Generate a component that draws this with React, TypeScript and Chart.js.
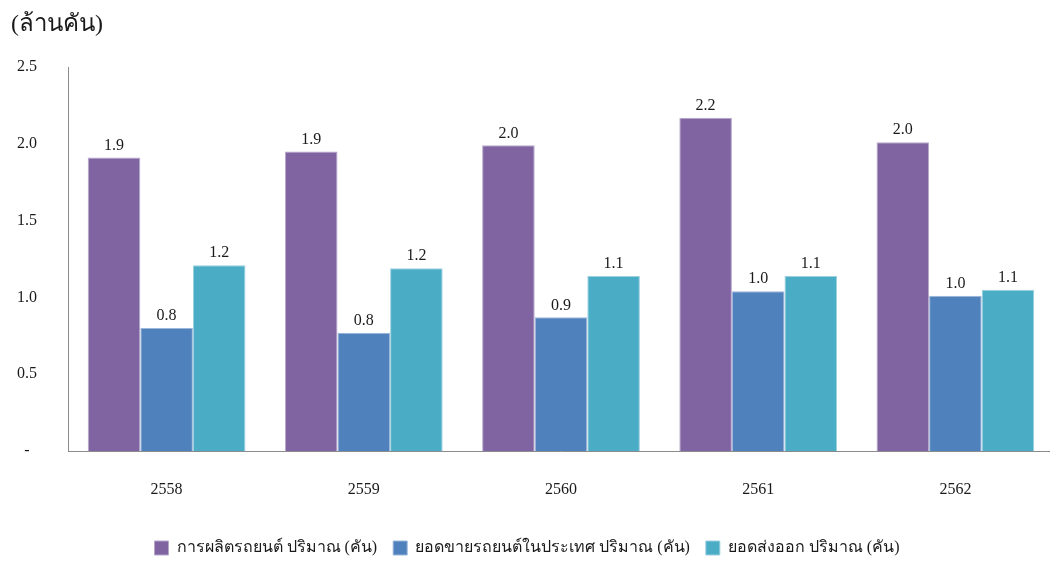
import React, { useEffect, useRef } from "react";
import { Chart, registerables } from "chart.js";

Chart.register(...registerables);

const categories = ["2558", "2559", "2560", "2561", "2562"];
const productionValues = [1.91, 1.95, 1.99, 2.17, 2.01];
const domesticValues = [0.80, 0.77, 0.87, 1.04, 1.01];
const exportValues = [1.21, 1.19, 1.14, 1.14, 1.05];
const seriesLabels = [
  "การผลิตรถยนต์ ปริมาณ (คัน)",
  "ยอดขายรถยนต์ในประเทศ ปริมาณ (คัน)",
  "ยอดส่งออก ปริมาณ (คัน)",
];
const yTickValues = [0, 0.5, 1.0, 1.5, 2.0, 2.5];
const unitLabel = "(ล้านคัน)";

const FONT = "'Liberation Serif', 'Times New Roman', 'Noto Sans', serif";

const labelPlugin = {
  id: "barLabels",
  afterDatasetsDraw(chart: any) {
    const ctx = chart.ctx;
    ctx.save();
    ctx.font = `16px ${FONT}`;
    ctx.fillStyle = "#1a1a1a";
    ctx.textAlign = "center";
    ctx.textBaseline = "bottom";
    chart.data.datasets.forEach((ds: any, i: number) => {
      const meta = chart.getDatasetMeta(i);
      meta.data.forEach((bar: any, j: number) => {
        const v = ds.data[j] as number;
        ctx.fillText(v.toFixed(1), bar.x, bar.y - 4);
      });
    });
    ctx.restore();
  },
};

const titlePlugin = {
  id: "unitTitle",
  afterDraw(chart: any) {
    const ctx = chart.ctx;
    ctx.save();
    ctx.font = `24px ${FONT}`;
    ctx.fillStyle = "#1a1a1a";
    ctx.textAlign = "left";
    ctx.textBaseline = "middle";
    ctx.fillText(unitLabel, 11, 25);
    ctx.restore();
  },
};

export default function App() {
  const ref = useRef<HTMLCanvasElement | null>(null);
  useEffect(() => {
    if (!ref.current) return;
    const chart = new Chart(ref.current, {
      type: "bar",
      data: {
        labels: categories,
        datasets: [
          {
            label: seriesLabels[0],
            data: productionValues,
            backgroundColor: "#8064A2",
            borderColor: "#B7A7CB",
            borderWidth: 1,
          },
          {
            label: seriesLabels[1],
            data: domesticValues,
            backgroundColor: "#4F81BD",
            borderColor: "#9DB6DA",
            borderWidth: 1,
          },
          {
            label: seriesLabels[2],
            data: exportValues,
            backgroundColor: "#4BACC6",
            borderColor: "#9BD0DF",
            borderWidth: 1,
          },
        ],
      },
      options: {
        responsive: false,
        animation: false,
        layout: { padding: { top: 67, right: 0, bottom: 0, left: 0 } },
        datasets: {
          bar: { categoryPercentage: 0.8, barPercentage: 1.0 },
        },
        plugins: {
          legend: {
            position: "bottom",
            labels: {
              font: { family: FONT, size: 16 },
              color: "#1a1a1a",
              boxWidth: 14,
              boxHeight: 14,
              padding: 16,
            },
          },
          tooltip: { enabled: false },
        },
        scales: {
          x: {
            grid: { display: false },
            border: { display: true, color: "#8c8c8c", width: 1 },
            ticks: {
              font: { family: FONT, size: 16 },
              color: "#1a1a1a",
              padding: 21,
            },
            afterFit(scale: any) {
              scale.height = 73;
            },
          },
          y: {
            min: 0,
            max: 2.5,
            afterBuildTicks(scale: any) {
              scale.ticks = yTickValues.map((v) => ({ value: v }));
            },
            grid: { display: false },
            border: { display: true, color: "#8c8c8c", width: 1 },
            ticks: {
              font: { family: FONT, size: 16 },
              color: "#1a1a1a",
              crossAlign: "center",
              padding: 23,
              callback: (v: any) => (Number(v) === 0 ? "-" : Number(v).toFixed(1)),
            },
            afterFit(scale: any) {
              scale.width = 68;
            },
          },
        },
      },
      plugins: [labelPlugin, titlePlugin],
    });
    return () => chart.destroy();
  }, []);
  return (
    <div
      style={{
        position: "fixed",
        left: 0,
        top: 0,
        width: 1050,
        height: 561,
        overflow: "hidden",
        background: "#fff",
      }}
    >
      <canvas ref={ref} width={1054} height={566} style={{ width: 1054, height: 566, display: "block" }} />
    </div>
  );
}
